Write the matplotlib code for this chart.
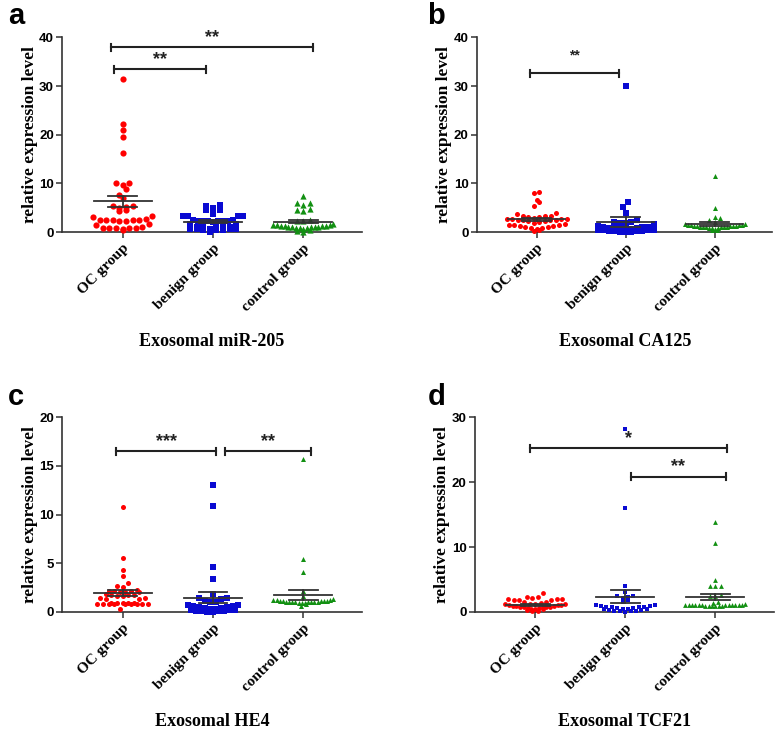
import numpy as np
import matplotlib
matplotlib.use("Agg")
import matplotlib.pyplot as plt

# Data

groups = ["OC group", "benign group", "control group"]
colors = ["#ff0000", "#0a0ad2", "#129012"]
markers = ["o", "s", "^"]

# panel a: exosomal miR-205
a_oc = [31.5, 22.2, 20.9, 19.6, 16.3, 10.0, 10.0, 9.6, 8.8, 7.6, 7.0, 5.4, 5.3, 5.1,
        4.9, 4.6, 4.3, 3.3, 3.1, 2.6, 2.5, 2.5, 2.5, 2.4, 2.4, 2.3, 2.2, 1.7, 1.5,
        1.0, 0.9, 0.9, 0.8, 0.8, 0.8, 0.7, 0.5]
a_benign = [5.6, 5.4, 4.9, 4.6, 4.5, 3.7, 3.3, 3.2, 3.2, 3.2, 2.5, 2.4, 2.3, 2.3, 2.3,
            2.2, 2.2, 2.2, 2.1, 1.7, 1.7, 1.1, 1.1, 1.0, 1.0, 1.0, 0.7, 0.6, 0.6, 0.6,
            0.6, 0.5, 0.5, 0.5, 0.1]
a_control = [7.5, 6.0, 5.9, 5.5, 4.7, 4.6, 4.4, 2.4, 2.3, 2.2, 1.6, 1.5, 1.4, 1.4, 1.3,
             1.3, 1.2, 1.2, 1.1, 1.1, 1.0, 1.0, 1.0, 0.9, 0.9, 0.8, 0.7, 0.5, 0.3, 0.1]

# panel b: exosomal CA125
b_oc = [8.3, 8.1, 6.6, 6.2, 5.3, 4.0, 3.8, 3.3, 3.2, 3.2, 3.1, 3.1, 2.9, 2.7, 2.7, 2.6,
        2.6, 2.5, 2.5, 2.5, 2.4, 2.3, 2.2, 2.0, 1.8, 1.6, 1.5, 1.5, 1.4, 1.3, 1.2, 1.1,
        1.0, 0.9, 0.8, 0.6, 0.5, 0.3]
b_benign = [30.0, 6.1, 5.2, 3.9, 2.4, 2.1, 2.0, 1.8, 1.8, 1.7, 1.2, 1.1, 1.0, 1.0, 0.9,
            0.9, 0.8, 0.7, 0.6, 0.6, 0.5, 0.5, 0.4, 0.4, 0.3, 0.3, 0.2, 0.2, 0.1, 0.1, 0.05]
b_control = [11.5, 4.9, 3.1, 2.8, 2.5, 2.0, 1.7, 1.6, 1.5, 1.5, 1.4, 1.4, 1.3, 1.3, 1.2,
             1.2, 1.2, 1.1, 1.1, 1.1, 1.0, 1.0, 1.0, 0.9, 0.9, 0.8, 0.7, 0.5, 0.4]

# panel c: exosomal HE4
c_oc = [10.8, 5.5, 4.3, 3.7, 3.0, 2.7, 2.6, 2.3, 2.2, 2.2, 2.2, 2.1, 2.1, 2.0, 1.8, 1.7,
        1.7, 1.7, 1.6, 1.6, 1.4, 1.4, 1.3, 1.3, 0.9, 0.9, 0.9, 0.9, 0.9, 0.8, 0.8, 0.8,
        0.8, 0.8, 0.8, 0.8, 0.8, 0.8, 0.3]
c_benign = [13.0, 10.9, 4.6, 3.4, 1.8, 1.4, 1.4, 1.3, 1.1, 1.0, 1.0, 0.7, 0.7, 0.6, 0.6,
            0.5, 0.5, 0.4, 0.4, 0.3, 0.3, 0.2, 0.2, 0.15, 0.1, 0.1, 0.05, 0.05, 0.0, 0.0]
c_control = [15.7, 5.4, 4.1, 2.2, 1.6, 1.3, 1.2, 1.2, 1.2, 1.1, 1.1, 1.1, 1.1, 1.1, 1.0,
             1.0, 1.0, 1.0, 1.0, 1.0, 1.0, 1.0, 0.9, 0.9, 0.9, 0.8, 0.6]

# panel d: exosomal TCF21
d_oc = [2.9, 2.3, 2.3, 2.1, 2.0, 2.0, 2.0, 1.9, 1.9, 1.8, 1.6, 1.5, 1.4, 1.3, 1.3, 1.2,
        1.2, 1.1, 1.0, 1.0, 0.9, 0.9, 0.9, 0.8, 0.8, 0.8, 0.7, 0.7, 0.6, 0.6, 0.5, 0.5,
        0.4, 0.3, 0.2, 0.1]
d_benign = [28.2, 16.0, 4.0, 3.0, 2.4, 2.4, 2.3, 2.2, 1.9, 1.5, 1.0, 1.0, 0.9, 0.9, 0.8,
            0.8, 0.7, 0.7, 0.6, 0.6, 0.5, 0.5, 0.4, 0.4, 0.3, 0.3, 0.2, 0.2, 0.1, 0.1, 0.0]
d_control = [13.9, 10.7, 5.0, 4.0, 4.0, 4.0, 2.6, 2.5, 2.4, 1.5, 1.4, 1.2, 1.1, 1.1, 1.0,
             1.0, 1.0, 1.0, 1.0, 1.0, 1.0, 1.0, 1.0, 1.0, 0.9, 0.9, 0.9, 0.9, 0.9, 0.9]

# mean and SEM as drawn
a_mean, a_sem = [6.3, 2.1, 2.1], [1.2, 0.3, 0.3]
b_mean, b_sem = [2.6, 2.1, 1.7], [0.35, 1.0, 0.4]
c_mean, c_sem = [1.95, 1.45, 1.75], [0.3, 0.55, 0.5]
d_mean, d_sem = [1.1, 2.35, 2.3], [0.12, 1.0, 0.5]

# significance brackets: (x start, x end, height, label)
a_sig = [(-0.13, 2.11, 38.0, "**"), (-0.10, 0.92, 33.4, "**")]
b_sig = [(-0.08, 0.93, 32.6, "**")]
c_sig = [(-0.07, 1.03, 16.5, "***"), (1.13, 2.09, 16.5, "**")]
d_sig = [(-0.06, 2.13, 25.2, "*"), (1.06, 2.12, 20.8, "**")]

titles = ["Exosomal miR-205", "Exosomal CA125", "Exosomal HE4", "Exosomal TCF21"]
letters = ["a", "b", "c", "d"]
ymaxes = [40, 40, 20, 30]
ysteps = [10, 10, 5, 10]

serif = "Liberation Serif"
sans = "Liberation Sans"


def swarm_x(ax, x0, vals, d, halfw):
    """Prism-style rows: points binned by pixel height, spread sideways,
    lowest values in the middle, squeezed to fit halfw pixels."""
    pts = ax.transData.transform(np.column_stack([np.full(len(vals), x0), vals]))
    base = ax.transData.transform([[x0, 0]])[0, 1]
    ys = pts[:, 1] - base
    bins = np.round(ys / d)
    offs = np.zeros(len(vals))
    for b in np.unique(bins):
        idx = np.where(bins == b)[0]
        idx = idx[np.argsort(vals[idx], kind="stable")]
        n = len(idx)
        step = d if n == 1 else min(d, 2 * halfw / (n - 1))
        pos = (np.arange(n) - (n - 1) / 2) * step
        pos = pos[np.argsort(np.abs(pos) + 1e-6 * np.arange(n), kind="stable")]
        offs[idx] = pos
    out = ax.transData.inverted().transform(np.column_stack([pts[:, 0] + offs, pts[:, 1]]))
    return out[:, 0]


fig = plt.figure(figsize=(7.77, 7.32), dpi=100)

rects = [[0.080, 0.683, 0.386, 0.266],
         [0.614, 0.683, 0.380, 0.266],
         [0.080, 0.164, 0.386, 0.266],
         [0.611, 0.164, 0.385, 0.266]]
panels = [
    ([a_oc, a_benign, a_control], a_mean, a_sem, a_sig),
    ([b_oc, b_benign, b_control], b_mean, b_sem, b_sig),
    ([c_oc, c_benign, c_control], c_mean, c_sem, c_sig),
    ([d_oc, d_benign, d_control], d_mean, d_sem, d_sig),
]
msizes = [20, 13, 13, 12]
dpix = [6.6, 5.6, 5.6, 5.4]
halfws = [30, 30, 30, 30]
star_sizes = [13, 10, 13, 13]
star_offsets = [1, 8, 1, 1]
letter_pos = [(0.010, 0.978), (0.550, 0.978), (0.010, 0.458), (0.550, 0.458)]

for k in range(4):
    data, means, sems, sig = panels[k]
    ax = fig.add_axes(rects[k])
    ax.set_xlim(-0.67, 2.65)
    ax.set_ylim(0, ymaxes[k])
    ax.set_yticks(np.arange(0, ymaxes[k] + 1, ysteps[k]))
    ax.set_xticks(range(3))
    ax.set_xticklabels(groups, rotation=45, ha="right", rotation_mode="anchor",
                       fontfamily=serif, fontweight="bold", fontsize=11)
    for lab in ax.get_yticklabels():
        lab.set_fontfamily(sans)
        lab.set_fontweight("bold")
        lab.set_fontsize(9.5)
    ax.tick_params(axis="both", length=4, width=1.1, color="#333333", direction="out")
    ax.tick_params(axis="x", pad=3)
    ax.tick_params(axis="y", pad=2)
    for s in ["top", "right"]:
        ax.spines[s].set_visible(False)
    for s in ["left", "bottom"]:
        ax.spines[s].set_linewidth(1.2)
        ax.spines[s].set_color("#333333")
    ax.set_ylabel("relative expression level", fontfamily=serif, fontweight="bold",
                  fontsize=12.5, labelpad=1)

    for g in range(3):
        vals = np.array(data[g], dtype=float)
        xs = swarm_x(ax, g, vals, dpix[k], halfws[k])
        ax.scatter(xs, vals, s=msizes[k], marker=markers[g], color=colors[g],
                   linewidths=0, zorder=3, clip_on=False)
        # mean and SEM
        m, e = means[g], sems[g]
        ax.plot([g - 0.32, g + 0.32], [m, m], color="#333333", lw=1.3, zorder=4)
        ax.plot([g - 0.16, g + 0.16], [m + e, m + e], color="#333333", lw=1.3, zorder=4)
        ax.plot([g - 0.16, g + 0.16], [m - e, m - e], color="#333333", lw=1.3, zorder=4)
        ax.plot([g, g], [m - e, m + e], color="#333333", lw=1.3, zorder=4)

    cap = ymaxes[k] * 0.018
    for x1, x2, h, lab in sig:
        ax.plot([x1, x2], [h, h], color="#222222", lw=1.5, clip_on=False)
        ax.plot([x1, x1], [h - cap, h + cap], color="#222222", lw=1.5, clip_on=False)
        ax.plot([x2, x2], [h - cap, h + cap], color="#222222", lw=1.5, clip_on=False)
        ax.annotate(lab, xy=((x1 + x2) / 2, h), xytext=(0, star_offsets[k]),
                    textcoords="offset points", ha="center", va="bottom",
                    fontsize=star_sizes[k], fontfamily=sans, fontweight="bold",
                    color="#222222")

    r = rects[k]
    fig.text(r[0] + r[2] / 2, r[1] - 0.150, titles[k], ha="center", va="center",
             fontfamily=serif, fontweight="bold", fontsize=13)
    fig.text(letter_pos[k][0], letter_pos[k][1], letters[k], ha="left", va="center",
             fontfamily=sans, fontweight="bold", fontsize=21)

fig.savefig("out.png", dpi=100)
